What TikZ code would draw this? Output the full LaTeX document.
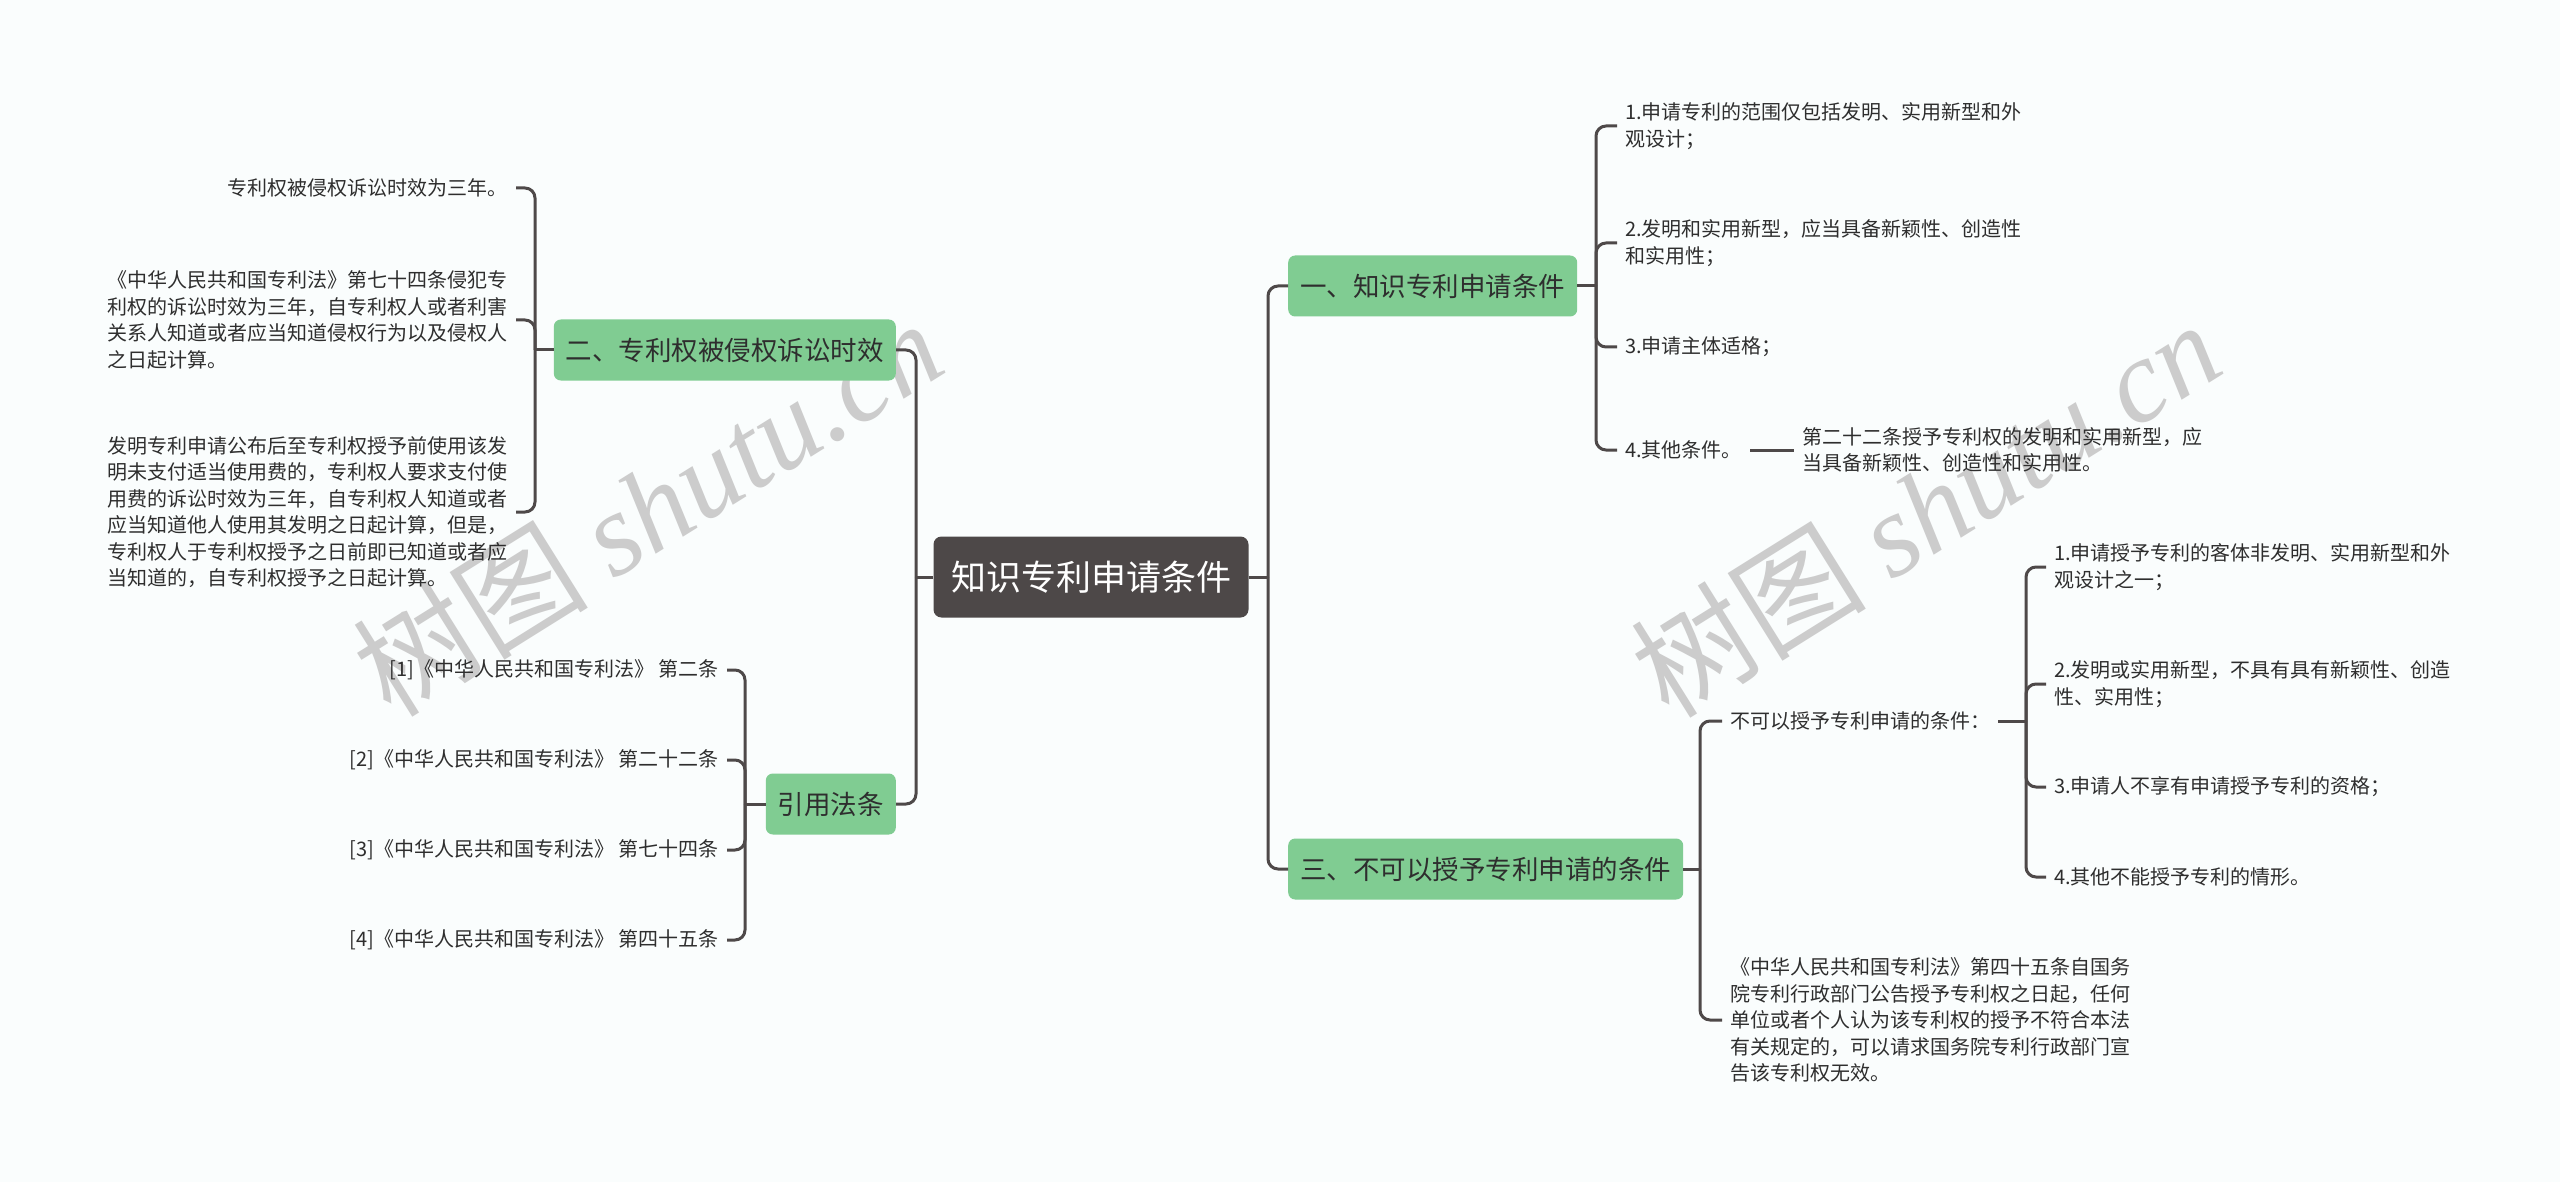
\documentclass[tikz,border=0pt]{standalone}
\usepackage{fontspec}
\setmainfont{Noto Sans CJK SC}
\newfontfamily\wmserif{Liberation Serif}
\definecolor{bgc}{HTML}{FAFDFD}
\definecolor{linec}{HTML}{4E4949}
\definecolor{rootc}{HTML}{4D4848}
\definecolor{greenc}{HTML}{80CC92}
\definecolor{txtc}{HTML}{2E2E2E}
\definecolor{wmc}{HTML}{CCCCCC}
\tikzset{
  rootbox/.style={fill=rootc, rounded corners=8, text=white, font=\fontsize{35}{42}\selectfont, minimum height=81, minimum width=315, inner sep=0},
  lvl/.style={fill=greenc, rounded corners=7, text=txtc, font=\fontsize{26.5}{32}\selectfont, minimum height=61, inner xsep=12, inner ysep=0},
  leaf/.style={text=txtc, font=\fontsize{20}{26.5}\selectfont, inner xsep=8, inner ysep=2, align=left},
  conn/.style={draw=linec, line width=3, rounded corners=10},
  wm/.style={text=wmc, font=\fontsize{118}{122}\selectfont, rotate=32, inner sep=0}
}
\begin{document}
\begin{tikzpicture}[x=1pt,y=-1pt]
\fill[bgc] (0,0) rectangle (2560,1182);
\useasboundingbox (0,0) rectangle (2560,1182);
% watermarks
\node[wm] (wm1) at (647,507) {树图 {\wmserif\itshape shutu.cn}};
\node[wm] (wm2) at (1925,508) {树图 {\wmserif\itshape shutu.cn}};
% root and main branches
\node[rootbox] (root) at (1091,577) {知识专利申请条件};
\node[lvl, anchor=west] (n1) at (1288,286) {一、知识专利申请条件};
\node[lvl, anchor=east] (n2) at (896,350) {二、专利权被侵权诉讼时效};
\node[lvl, anchor=west] (n3) at (1288,869) {三、不可以授予专利申请的条件};
\node[lvl, anchor=east] (n4) at (896,804) {引用法条};
% branch 二
\node[leaf, anchor=east] (a1) at (516,188) {专利权被侵权诉讼时效为三年。};
\node[leaf, anchor=east] (a2) at (516,320) {《中华人民共和国专利法》第七十四条侵犯专\\利权的诉讼时效为三年，自专利权人或者利害\\关系人知道或者应当知道侵权行为以及侵权人\\之日起计算。};
\node[leaf, anchor=east] (a3) at (516,512) {发明专利申请公布后至专利权授予前使用该发\\明未支付适当使用费的，专利权人要求支付使\\用费的诉讼时效为三年，自专利权人知道或者\\应当知道他人使用其发明之日起计算，但是，\\专利权人于专利权授予之日前即已知道或者应\\当知道的，自专利权授予之日起计算。};
% branch 引用法条
\node[leaf, anchor=east] (b1) at (727,670) {[1]《中华人民共和国专利法》 第二条};
\node[leaf, anchor=east] (b2) at (727,760) {[2]《中华人民共和国专利法》 第二十二条};
\node[leaf, anchor=east] (b3) at (727,850) {[3]《中华人民共和国专利法》 第七十四条};
\node[leaf, anchor=east] (b4) at (727,940) {[4]《中华人民共和国专利法》 第四十五条};
% branch 一
\node[leaf, anchor=west] (c1) at (1617,126) {1.申请专利的范围仅包括发明、实用新型和外\\观设计；};
\node[leaf, anchor=west] (c2) at (1617,243) {2.发明和实用新型，应当具备新颖性、创造性\\和实用性；};
\node[leaf, anchor=west] (c3) at (1617,347) {3.申请主体适格；};
\node[leaf, anchor=west] (c4) at (1617,450) {4.其他条件。};
\node[leaf, anchor=west] (c5) at (1794,450) {第二十二条授予专利权的发明和实用新型，应\\当具备新颖性、创造性和实用性。};
% branch 三
\node[leaf, anchor=west] (d1) at (1722,721) {不可以授予专利申请的条件：};
\node[leaf, anchor=west] (d2) at (1722,1020) {《中华人民共和国专利法》第四十五条自国务\\院专利行政部门公告授予专利权之日起，任何\\单位或者个人认为该专利权的授予不符合本法\\有关规定的，可以请求国务院专利行政部门宣\\告该专利权无效。};
\node[leaf, anchor=west] (e1) at (2046,567) {1.申请授予专利的客体非发明、实用新型和外\\观设计之一；};
\node[leaf, anchor=west] (e2) at (2046,684) {2.发明或实用新型，不具有具有新颖性、创造\\性、实用性；};
\node[leaf, anchor=west] (e3) at (2046,787) {3.申请人不享有申请授予专利的资格；};
\node[leaf, anchor=west] (e4) at (2046,877) {4.其他不能授予专利的情形。};
% junction coordinates
\coordinate (tl) at (916,577);
\coordinate (tr) at (1268,577);
\coordinate (t2) at (535,350);
\coordinate (t4) at (745,804);
\coordinate (t1) at (1596,286);
\coordinate (t3) at (1700,869);
\coordinate (t5) at (2026,721);
% connectors
\draw[conn] (root.west) -- (tl);
\draw[conn] (tl) |- (n2.east);
\draw[conn] (tl) |- (n4.east);
\draw[conn] (root.east) -- (tr);
\draw[conn] (tr) |- (n1.west);
\draw[conn] (tr) |- (n3.west);
\draw[conn] (n2.west) -- (t2);
\foreach \c in {a1,a2,a3} \draw[conn] (t2) |- (\c.east);
\draw[conn] (n4.west) -- (t4);
\foreach \c in {b1,b2,b3,b4} \draw[conn] (t4) |- (\c.east);
\draw[conn] (n1.east) -- (t1);
\foreach \c in {c1,c2,c3,c4} \draw[conn] (t1) |- (\c.west);
\draw[conn] (c4.east) -- (c5.west);
\draw[conn] (n3.east) -- (t3);
\foreach \c in {d1,d2} \draw[conn] (t3) |- (\c.west);
\draw[conn] (d1.east) -- (t5);
\foreach \c in {e1,e2,e3,e4} \draw[conn] (t5) |- (\c.west);
\end{tikzpicture}
\end{document}
